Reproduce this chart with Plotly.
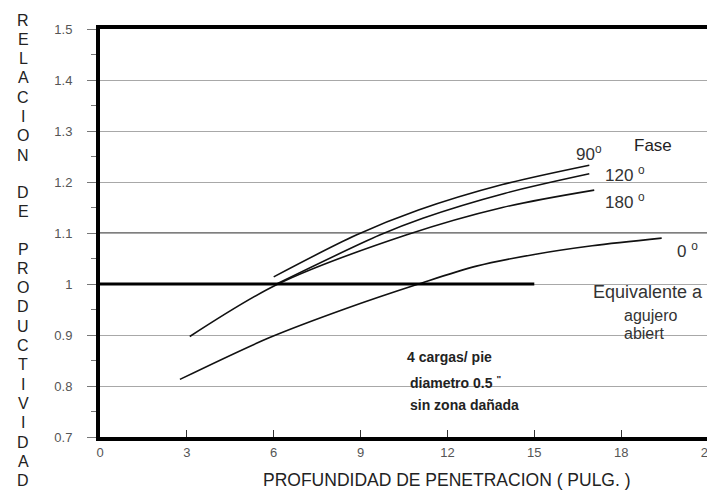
import plotly.graph_objects as go

# ---------------- data ----------------
x_ticks = [0, 3, 6, 9, 12, 15, 18, 21]
x_labels = ["0", "3", "6", "9", "12", "15", "18", "21"]
y_ticks = [0.7, 0.8, 0.9, 1.0, 1.1, 1.2, 1.3, 1.4, 1.5]
y_labels = ["0.7", "0.8", "0.9", "1", "1.1", "1.2", "1.3", "1.4", "1.5"]

x_90 = [6.0, 8.85, 11.0, 13.9, 16.9]
y_90 = [1.014, 1.096, 1.145, 1.195, 1.233]

x_120 = [6.1, 9.66, 11.15, 14.0, 16.9]
y_120 = [1.0, 1.096, 1.129, 1.178, 1.216]

x_180 = [3.1, 6.15, 10.57, 13.9, 17.07]
y_180 = [0.897, 1.0, 1.096, 1.150, 1.184]

x_0 = [2.76, 5.86, 8.5, 11.0, 13.0, 15.0, 17.0, 19.4]
y_0 = [0.813, 0.895, 0.952, 1.0, 1.035, 1.058, 1.075, 1.09]

x_open = [0, 15]
y_open = [1.0, 1.0]

ref_line = 1.1

ytitle_letters = list("RELACION") + [""] + list("DE") + [""] + list("PRODUCTIVIDAD")

FONT = "Liberation Sans, Arial, sans-serif"

# page has an 8px body margin; figure is sized so the plot area lands at
# page pixels x 100..708, y 29..437
BODY = 8
PL, PR, PT, PB = 100, 708, 29, 437
FIG_W, FIG_H = 715 - BODY, 503 - BODY

fig = go.Figure()

line_style = dict(color="#111111", width=1.6, shape="spline", smoothing=0.9)
for xs, ys, nm in [(x_90, y_90, "90°"), (x_120, y_120, "120°"),
                   (x_180, y_180, "180°"), (x_0, y_0, "0°")]:
    fig.add_trace(go.Scatter(x=xs, y=ys, mode="lines", line=line_style,
                             name=nm, showlegend=False, hoverinfo="skip"))

fig.add_trace(go.Scatter(x=x_open, y=y_open, mode="lines",
                         line=dict(color="black", width=3),
                         showlegend=False, hoverinfo="skip"))

fig.add_hline(y=ref_line, line=dict(color="black", width=1.2), layer="below")

# ---------------- annotations ----------------
def ann(x, y, text, size=17, color="#333333", xanchor="center", **kw):
    fig.add_annotation(x=x, y=y, xref="x", yref="y", text=text, showarrow=False,
                       font=dict(family=FONT, size=size, color=color),
                       xanchor=xanchor, yanchor="middle", **kw)

ann(16.9, 1.257, "90<sup>o</sup>")
ann(19.1, 1.272, "Fase", color="#222222")
ann(18.15, 1.215, "120 <sup>o</sup>")
ann(18.15, 1.163, "180 <sup>o</sup>")
ann(20.3, 1.066, "0 <sup>o</sup>")
ann(16.95, 0.984, "Equivalente a", size=18, xanchor="left")
ann(19.0, 0.938, "agujero", size=16)
ann(18.8, 0.902, "abiert", size=16)
ann(10.55, 0.856, "<b>4 cargas/ pie</b>", size=14, color="#222222", xanchor="left")
ann(10.65, 0.808, "<b>diametro 0.5 <sup>\"</sup></b>", size=14, color="#222222", xanchor="left")
ann(10.65, 0.763, "<b>sin zona dañada</b>", size=14, color="#222222", xanchor="left")

def px_to_paper(px, py):
    return (px - PL) / (PR - PL), (PB - py) / (PB - PT)

# x-axis title (offset to the right as in the reference)
tx, ty = px_to_paper(447, 480)
fig.add_annotation(x=tx, y=ty, xref="paper", yref="paper",
                   text="PROFUNDIDAD DE PENETRACION ( PULG. )", showarrow=False,
                   font=dict(family=FONT, size=17.5, color="#222222"),
                   xanchor="center", yanchor="middle")

# stacked y-axis title letters
p = 20
for ch in ytitle_letters:
    if ch != "":
        lx, ly = px_to_paper(23, p)
        fig.add_annotation(x=lx, y=ly, xref="paper", yref="paper", text=ch,
                           showarrow=False,
                           font=dict(family=FONT, size=16, color="#222222"),
                           xanchor="center", yanchor="middle")
    p += 19.3 if ch != "" else 18

fig.update_xaxes(range=[0, 21], tickvals=x_ticks, ticktext=x_labels,
                 showgrid=False, zeroline=False, automargin=False,
                 ticklabeloverflow="allow",
                 showline=True, mirror=True, linewidth=4, linecolor="black",
                 ticks="inside", ticklen=7, tickwidth=1, tickcolor="#333333",
                 tickfont=dict(family=FONT, size=13, color="#555555"))
fig.update_yaxes(range=[0.7, 1.5], tickvals=y_ticks, ticktext=y_labels,
                 showgrid=True, gridcolor="#a8a8a8", gridwidth=1, zeroline=False,
                 automargin=False, ticklabeloverflow="allow",
                 showline=True, mirror=True, linewidth=4, linecolor="black",
                 ticks="outside", ticklen=9, tickwidth=1, tickcolor="#777777",
                 minor=dict(dtick=0.05, ticks="outside", ticklen=5, tickcolor="#777777",
                            showgrid=False),
                 ticklabelstandoff=12,
                 tickfont=dict(family=FONT, size=13, color="#555555"))

fig.update_layout(width=FIG_W, height=FIG_H, autosize=False,
                  margin=dict(l=PL - BODY, r=715 - PR, t=PT - BODY, b=FIG_H - (PB - BODY)),
                  paper_bgcolor="white", plot_bgcolor="white",
                  showlegend=False)

fig.write_html("out.html")
